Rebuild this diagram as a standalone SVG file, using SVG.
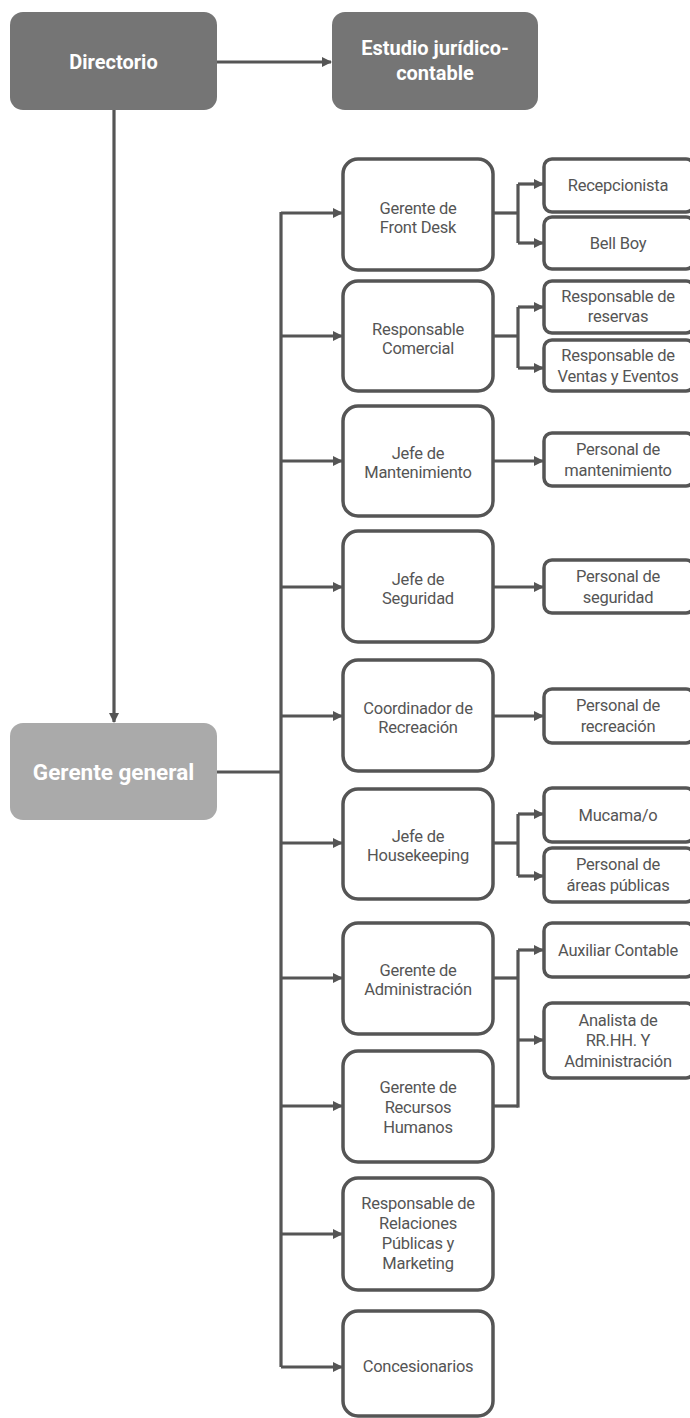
<svg xmlns="http://www.w3.org/2000/svg" width="690" height="1418" viewBox="0 0 690 1418">
<defs>
<marker id="ah" markerWidth="10" markerHeight="10" refX="9" refY="5" orient="auto" markerUnits="userSpaceOnUse">
<path d="M0,0 L10,5 L0,10 Z" fill="#555555"/>
</marker>
<style>
.top{fill:#757575;}
.gg{fill:#aaaaaa;}
.mid{fill:#ffffff;stroke:#555555;stroke-width:3.5;}
.sub{fill:#ffffff;stroke:#555555;stroke-width:3.5;}
.tw{font-family:Roboto,"Liberation Sans",sans-serif;font-weight:bold;fill:#ffffff;text-anchor:middle;}
.t{font-family:Roboto,"Liberation Sans",sans-serif;font-size:16.5px;letter-spacing:-0.25px;fill:#555555;text-anchor:middle;}
.c{fill:none;stroke:#555555;stroke-width:3.2;}
</style>
</defs>
<rect width="690" height="1418" fill="#ffffff"/>

<g id="connectors">
<path class="c" d="M217,62 H331" marker-end="url(#ah)"/>
<path class="c" d="M114,110 V722" marker-end="url(#ah)"/>
<path class="c" d="M217,772 H281"/>
<path class="c" d="M281,212 V1367"/>
<path class="c" d="M281,213 H342" marker-end="url(#ah)"/>
<path class="c" d="M281,336 H342" marker-end="url(#ah)"/>
<path class="c" d="M281,461 H342" marker-end="url(#ah)"/>
<path class="c" d="M281,587 H342" marker-end="url(#ah)"/>
<path class="c" d="M281,716 H342" marker-end="url(#ah)"/>
<path class="c" d="M281,843 H342" marker-end="url(#ah)"/>
<path class="c" d="M281,978 H342" marker-end="url(#ah)"/>
<path class="c" d="M281,1106 H342" marker-end="url(#ah)"/>
<path class="c" d="M281,1234 H342" marker-end="url(#ah)"/>
<path class="c" d="M281,1367 H342" marker-end="url(#ah)"/>
<path class="c" d="M493,213 H518"/>
<path class="c" d="M518,184 V243"/>
<path class="c" d="M518,184 H543" marker-end="url(#ah)"/>
<path class="c" d="M518,243 H543" marker-end="url(#ah)"/>
<path class="c" d="M493,336 H518"/>
<path class="c" d="M518,307 V368"/>
<path class="c" d="M518,307 H543" marker-end="url(#ah)"/>
<path class="c" d="M518,368 H543" marker-end="url(#ah)"/>
<path class="c" d="M493,461 H543" marker-end="url(#ah)"/>
<path class="c" d="M493,587 H543" marker-end="url(#ah)"/>
<path class="c" d="M493,716 H543" marker-end="url(#ah)"/>
<path class="c" d="M493,843 H518"/>
<path class="c" d="M518,814 V876"/>
<path class="c" d="M518,814 H543" marker-end="url(#ah)"/>
<path class="c" d="M518,876 H543" marker-end="url(#ah)"/>
<path class="c" d="M493,978 H518"/>
<path class="c" d="M493,1106 H518"/>
<path class="c" d="M518,950 V1107.6"/>
<path class="c" d="M518,950 H543" marker-end="url(#ah)"/>
<path class="c" d="M518,1040 H543" marker-end="url(#ah)"/>
</g>

<g id="directorio"><rect class="top" x="10" y="12" width="207" height="98" rx="13"/><text class="tw" x="113.5" y="69" font-size="20">Directorio</text></g>
<g id="estudio"><rect class="top" x="332" y="12" width="206" height="98" rx="13"/><text class="tw" x="435" y="55" font-size="20">Estudio jurídico-</text><text class="tw" x="435" y="80" font-size="20">contable</text></g>
<g id="gerente-general"><rect class="gg" x="10" y="723" width="207" height="97" rx="13"/><text class="tw" x="113.5" y="780" font-size="22.5">Gerente general</text></g>

<g id="front-desk"><rect class="mid" x="343" y="159" width="150" height="111" rx="15"/><text class="t" x="418" y="214">Gerente de</text><text class="t" x="418" y="233">Front Desk</text></g>
<g id="comercial"><rect class="mid" x="343" y="281" width="150" height="110" rx="15"/><text class="t" x="418" y="335">Responsable</text><text class="t" x="418" y="354">Comercial</text></g>
<g id="mantenimiento"><rect class="mid" x="343" y="406" width="150" height="110" rx="15"/><text class="t" x="418" y="459">Jefe de</text><text class="t" x="418" y="478">Mantenimiento</text></g>
<g id="seguridad"><rect class="mid" x="343" y="531" width="150" height="111" rx="15"/><text class="t" x="418" y="585">Jefe de</text><text class="t" x="418" y="604">Seguridad</text></g>
<g id="recreacion"><rect class="mid" x="343" y="660" width="150" height="111" rx="15"/><text class="t" x="418" y="714">Coordinador de</text><text class="t" x="418" y="733">Recreación</text></g>
<g id="housekeeping"><rect class="mid" x="343" y="789" width="150" height="110" rx="15"/><text class="t" x="418" y="842">Jefe de</text><text class="t" x="418" y="861">Housekeeping</text></g>
<g id="administracion"><rect class="mid" x="343" y="923" width="150" height="111" rx="15"/><text class="t" x="418" y="976">Gerente de</text><text class="t" x="418" y="995">Administración</text></g>
<g id="rrhh"><rect class="mid" x="343" y="1051" width="150" height="111" rx="15"/><text class="t" x="418" y="1093">Gerente de</text><text class="t" x="418" y="1113">Recursos</text><text class="t" x="418" y="1133">Humanos</text></g>
<g id="relaciones"><rect class="mid" x="343" y="1178" width="150" height="112" rx="15"/><text class="t" x="418" y="1209">Responsable de</text><text class="t" x="418" y="1229">Relaciones</text><text class="t" x="418" y="1249">Públicas y</text><text class="t" x="418" y="1269">Marketing</text></g>
<g id="concesionarios"><rect class="mid" x="343" y="1311" width="150" height="105" rx="15"/><text class="t" x="418" y="1372">Concesionarios</text></g>

<g id="recepcionista"><rect class="sub" x="544" y="159" width="150" height="53" rx="8"/><text class="t" x="618" y="191">Recepcionista</text></g>
<g id="bellboy"><rect class="sub" x="544" y="217" width="150" height="52" rx="8"/><text class="t" x="618" y="249">Bell Boy</text></g>
<g id="reservas"><rect class="sub" x="544" y="281" width="150" height="52" rx="8"/><text class="t" x="618" y="302">Responsable de</text><text class="t" x="618" y="322">reservas</text></g>
<g id="ventas"><rect class="sub" x="544" y="340" width="150" height="51" rx="8"/><text class="t" x="618" y="361">Responsable de</text><text class="t" x="618" y="382">Ventas y Eventos</text></g>
<g id="personal-mant"><rect class="sub" x="544" y="433" width="150" height="53" rx="8"/><text class="t" x="618" y="455">Personal de</text><text class="t" x="618" y="476">mantenimiento</text></g>
<g id="personal-seg"><rect class="sub" x="544" y="560" width="150" height="53" rx="8"/><text class="t" x="618" y="582">Personal de</text><text class="t" x="618" y="603">seguridad</text></g>
<g id="personal-rec"><rect class="sub" x="544" y="689" width="150" height="54" rx="8"/><text class="t" x="618" y="711">Personal de</text><text class="t" x="618" y="732">recreación</text></g>
<g id="mucama"><rect class="sub" x="544" y="788" width="150" height="54" rx="8"/><text class="t" x="618" y="821">Mucama/o</text></g>
<g id="areas-publicas"><rect class="sub" x="544" y="848" width="150" height="54" rx="8"/><text class="t" x="618" y="870">Personal de</text><text class="t" x="618" y="891">áreas públicas</text></g>
<g id="auxiliar"><rect class="sub" x="544" y="923" width="150" height="54" rx="8"/><text class="t" x="618" y="956">Auxiliar Contable</text></g>
<g id="analista"><rect class="sub" x="544" y="1003" width="150" height="75" rx="8"/><text class="t" x="618" y="1026">Analista de</text><text class="t" x="618" y="1046">RR.HH. Y</text><text class="t" x="618" y="1067">Administración</text></g>
</svg>
